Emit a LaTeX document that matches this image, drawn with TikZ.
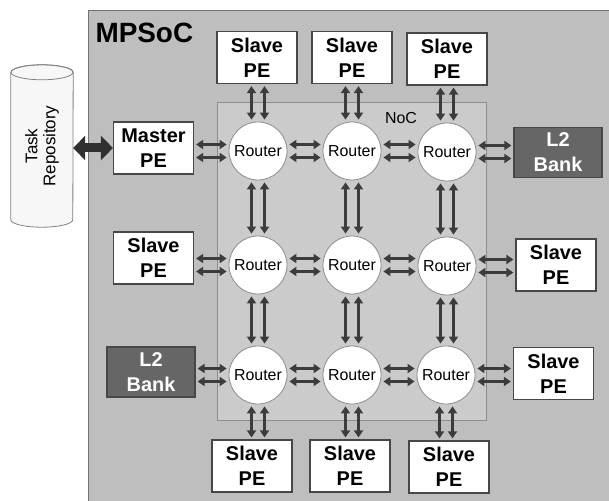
\documentclass[tikz,border=0pt]{standalone}
\usepackage{fontspec}
\setmainfont{Liberation Sans}
\usetikzlibrary{shapes.geometric,arrows.meta,calc}
\definecolor{socgray}{HTML}{BEBEBE}
\definecolor{nocgray}{HTML}{CBCBCB}
\definecolor{linkgray}{HTML}{3C3C3C}
\definecolor{bankgray}{HTML}{666666}

% two parallel bidirectional links, horizontal / vertical, aligned on a router
\newcommand\hlinks[3]{%
  \foreach \d in {-6.5,6.5}{\draw[link] ($(#1.east|-#3)+(0,\d)$) -- ($(#2.west|-#3)+(0,\d)$);}}
\newcommand\vlinks[3]{%
  \foreach \d in {-6.5,6.5}{\draw[link] ($(#1.south-|#3)+(\d,0)$) -- ($(#2.north-|#3)+(\d,0)$);}}

\begin{document}
\begin{tikzpicture}[x=1bp,y=-1bp,
  pe/.style={draw=black!72, fill=white, line width=1.2bp, minimum width=80bp,
    minimum height=52bp, inner sep=0pt, align=center,
    font=\fontsize{20}{25}\selectfont\bfseries},
  bank/.style={pe, fill=bankgray, text=white, minimum width=88bp, minimum height=50bp},
  router/.style={circle, draw=black!45, fill=white, line width=0.8bp,
    minimum size=58bp, inner sep=0pt, font=\fontsize{16}{18}\selectfont},
  link/.style={draw=linkgray, line width=2.2bp,
    {Triangle[length=7bp,width=9bp]}-{Triangle[length=7bp,width=9bp]},
    shorten <=2bp, shorten >=2bp},
  bigarrow/.style={draw=linkgray!80!black, line width=9bp,
    {Triangle[length=12bp,width=24bp]}-{Triangle[length=12bp,width=24bp]}},
]
\clip (0,0) rectangle (609,501);
\useasboundingbox (0,0) rectangle (609,501);

% chip outline
\node[draw=black!55, fill=socgray, line width=1.2bp, minimum width=560bp,
  minimum height=540bp, inner sep=0pt, anchor=north west] (soc) at (88,10) {};
\node[anchor=base west, font=\fontsize{28}{30}\selectfont\bfseries] (soclabel) at (92,43) {MPSoC};

% network-on-chip area
\node[draw=black!45, fill=nocgray, line width=1bp, minimum width=269bp,
  minimum height=317bp, inner sep=0pt] (noc) at (351.5,261.5) {};
\node[font=\fontsize{16}{18}\selectfont] (noclabel) at (401,118) {NoC};

% routers
\node[router] (r11) at (258,151) {Router};
\node[router] (r12) at (352,151) {Router};
\node[router] (r13) at (447,152) {Router};
\node[router] (r21) at (258,265) {Router};
\node[router] (r22) at (352,265) {Router};
\node[router] (r23) at (447,266) {Router};
\node[router] (r31) at (258,375) {Router};
\node[router] (r32) at (352,375) {Router};
\node[router] (r33) at (446,375) {Router};

% processing elements and memory banks
\node[pe] (master) at (153.5,148) {Master\\PE};
\node[pe] (t1) at (257,57.5) {Slave\\PE};
\node[pe] (t2) at (352,57.5) {Slave\\PE};
\node[pe] (t3) at (447,59) {Slave\\PE};
\node[bank] (bankr) at (558,152.5) {L2\\Bank};
\node[pe] (sl2) at (153.5,258) {Slave\\PE};
\node[pe] (sr2) at (556,265) {Slave\\PE};
\node[bank] (bankl) at (151,372) {L2\\Bank};
\node[pe] (sr3) at (553.5,373.5) {Slave\\PE};
\node[pe] (b1) at (252,466) {Slave\\PE};
\node[pe] (b2) at (350,466) {Slave\\PE};
\node[pe] (b3) at (449,467) {Slave\\PE};

% external task repository: upright cylinder with a rotated label
\node[minimum width=62bp, minimum height=162bp, inner sep=0pt] (repo) at (42,146) {};
\filldraw[draw=black!50, fill=black!3, line width=0.8bp]
  ($(repo.north west)+(0,7.5)$) -- ($(repo.south west)+(0,-7.5)$)
  arc[start angle=180, end angle=0, x radius=31, y radius=7.5]
  -- ($(repo.north east)+(0,7.5)$)
  arc[start angle=0, end angle=-180, x radius=31, y radius=7.5] -- cycle;
\draw[draw=black!50, line width=0.8bp] ($(repo.north)+(0,7.5)$)
  ellipse[x radius=31, y radius=7.5];
\node[rotate=90, align=center, font=\fontsize{17}{18}\selectfont] (repolabel)
  at (repo.center) {Task\\Repository};
\draw[bigarrow] (repo.east|-master) -- (master.west);

% horizontal links
\hlinks{master}{r11}{r11}
\hlinks{r11}{r12}{r11}
\hlinks{r12}{r13}{r12}
\hlinks{r13}{bankr}{r13}
\hlinks{sl2}{r21}{r21}
\hlinks{r21}{r22}{r21}
\hlinks{r22}{r23}{r22}
\hlinks{r23}{sr2}{r23}
\hlinks{bankl}{r31}{r31}
\hlinks{r31}{r32}{r31}
\hlinks{r32}{r33}{r32}
\hlinks{r33}{sr3}{r33}

% vertical links
\vlinks{t1}{r11}{r11}
\vlinks{t2}{r12}{r12}
\vlinks{t3}{r13}{r13}
\vlinks{r11}{r21}{r11}
\vlinks{r12}{r22}{r12}
\vlinks{r13}{r23}{r13}
\vlinks{r21}{r31}{r21}
\vlinks{r22}{r32}{r22}
\vlinks{r23}{r33}{r23}
\vlinks{r31}{b1}{r31}
\vlinks{r32}{b2}{r32}
\vlinks{r33}{b3}{r33}
\end{tikzpicture}
\end{document}
